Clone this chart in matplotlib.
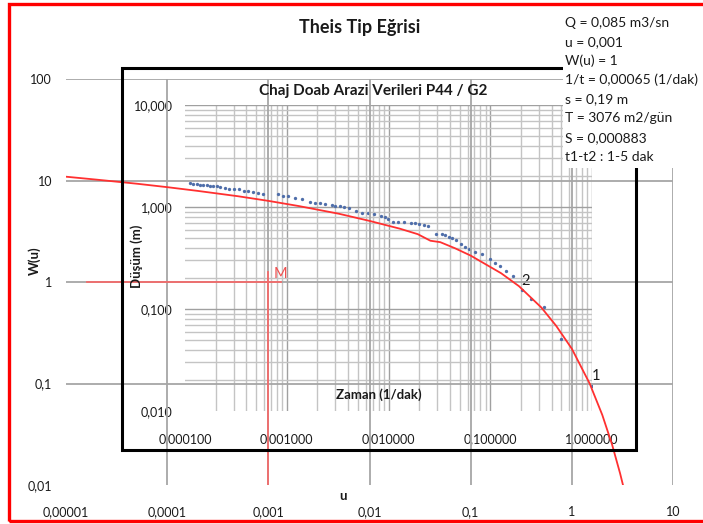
import numpy as np
import matplotlib
matplotlib.use('Agg')
import matplotlib.pyplot as plt
from matplotlib.patches import Rectangle
from matplotlib.ticker import LogLocator, FuncFormatter, NullFormatter

plt.rcParams['font.family'] = ['Lato', 'DejaVu Sans']

# Theis type curve W(u)
u_vals = [1e-5, 2e-5, 5e-5, 1e-4, 2e-4, 5e-4, 1e-3, 2e-3, 5e-3, 1e-2, 2e-2, 3e-2,
          4e-2, 5e-2, 7e-2, 0.1, 0.2, 0.3, 0.5, 0.7, 1.0, 1.5, 2.0, 2.5, 3.0, 3.5]
W_vals = [10.9, 10.2, 9.3, 8.6, 7.9, 7.0, 6.3, 5.6, 4.7, 4.0, 3.35, 2.96,
          2.55, 2.47, 2.15, 1.82, 1.22, 0.91, 0.56, 0.37, 0.22, 0.10, 0.049, 0.025, 0.013, 0.007]

# field data, Chaj Doab P44 / G2 : 1/t (1/dak) vs drawdown s (m)
inv_t = [0.000112, 0.000121, 0.00013, 0.00014, 0.000151, 0.000163, 0.000176, 0.00019,
         0.000205, 0.000221, 0.000247, 0.000273, 0.000303, 0.00034, 0.000383, 0.000419,
         0.000469, 0.000525, 0.000589, 0.000826, 0.000925, 0.00102, 0.00121, 0.0014,
         0.00169, 0.0019, 0.00212, 0.00238, 0.0028, 0.00298, 0.00334, 0.00368, 0.00412,
         0.0048, 0.00546, 0.00625, 0.0072, 0.00844, 0.00924, 0.00995, 0.01114, 0.01248,
         0.01429, 0.0166, 0.0182, 0.01995, 0.0223, 0.0247, 0.0291, 0.0333, 0.0359, 0.0393,
         0.0418, 0.046, 0.0513, 0.0564, 0.0623, 0.0708, 0.0836, 0.0995, 0.1114, 0.1247,
         0.144, 0.168, 0.204, 0.251, 0.34, 0.495, 1.0]
s_vals = [1.71, 1.68, 1.67, 1.65, 1.64, 1.63, 1.62, 1.62,
          1.61, 1.58, 1.52, 1.50, 1.50, 1.49, 1.43, 1.43,
          1.39, 1.38, 1.33, 1.34, 1.29, 1.28, 1.22, 1.19,
          1.13, 1.10, 1.09, 1.06, 1.04, 1.03, 1.02, 1.01, 0.971,
          0.914, 0.867, 0.867, 0.848, 0.816, 0.803, 0.768, 0.718, 0.718,
          0.718, 0.697, 0.692, 0.681, 0.659, 0.647, 0.544, 0.540, 0.531, 0.512,
          0.493, 0.475, 0.431, 0.408, 0.390, 0.365, 0.344, 0.307, 0.281, 0.266,
          0.236, 0.211, 0.155, 0.125, 0.104, 0.0508, 0.0174]

# match point
match_u = 0.001
match_W = 1
match_u_start = 1.6e-5
match_u_end = 1.33e-3
match_W_top = 1.26

info_lines = ['Q = 0,085 m3/sn', 'u = 0,001', 'W(u) = 1', '1/t = 0,00065 (1/dak)',
              's = 0,19 m', 'T = 3076 m2/gün', 'S = 0,000883', 't1-t2 : 1-5 dak']

W, H = 703, 524
txt_col = '#1a1a1a'


def fx(px):
    return px / W


def fy(py):
    return 1 - py / H


def comma_fmt(v, pos):
    s = f'{v:.10f}'.rstrip('0').rstrip('.')
    return s.replace('.', ',')


fig = plt.figure(figsize=(7.03, 5.24), dpi=100)

# inner chart (field data)
ax_in = fig.add_axes([fx(185), fy(411), fx(592) - fx(185), fy(105) - fy(411)], zorder=1)
ax_in.patch.set_visible(False)
ax_in.set_xscale('log')
ax_in.set_yscale('log')
ax_in.set_xlim(1e-4, 1)
ax_in.set_ylim(0.01, 10)
ax_in.plot(inv_t, s_vals, 'o', ms=2.4, color='#4F6EAA', mec='none')
ax_in.xaxis.set_major_locator(LogLocator(base=10))
ax_in.yaxis.set_major_locator(LogLocator(base=10))
ax_in.xaxis.set_minor_locator(LogLocator(base=10, subs=np.arange(2, 10), numticks=20))
ax_in.yaxis.set_minor_locator(LogLocator(base=10, subs=np.arange(2, 10), numticks=20))
ax_in.xaxis.set_minor_formatter(NullFormatter())
ax_in.yaxis.set_minor_formatter(NullFormatter())
ax_in.xaxis.set_major_formatter(FuncFormatter(lambda v, p: f'{v:.6f}'.replace('.', ',')))
ax_in.yaxis.set_major_formatter(FuncFormatter(lambda v, p: f'{v:.3f}'.replace('.', ',')))
ax_in.grid(True, which='major', color='#A0A0A0', lw=1.0)
ax_in.grid(True, which='minor', color='#C4C4C4', lw=1.0)
ax_in.tick_params(which='both', length=0, labelsize=9, labelcolor=txt_col)
ax_in.tick_params(axis='x', pad=16)
ax_in.tick_params(axis='y', pad=9)
for sp in ax_in.spines.values():
    sp.set_visible(False)
ax_in.annotate('2', (inv_t[64], s_vals[64]), xytext=(0, 3), textcoords='offset points',
               ha='left', va='baseline', fontsize=10.5, color=txt_col)
ax_in.annotate('1', (inv_t[68], s_vals[68]), xytext=(0, 5), textcoords='offset points',
               ha='left', va='baseline', fontsize=10.5, color=txt_col)

# outer chart (Theis type curve)
ax_out = fig.add_axes([fx(66), fy(485), fx(673) - fx(66), fy(79) - fy(485)], zorder=2)
ax_out.patch.set_visible(False)
ax_out.set_xscale('log')
ax_out.set_yscale('log')
ax_out.set_xlim(1e-5, 10)
ax_out.set_ylim(0.01, 100)
ax_out.plot(u_vals, W_vals, color='#FF3030', lw=1.3)
ax_out.plot([match_u_start, match_u_end], [match_W, match_W], color='#F26B6B', lw=1.3)
ax_out.plot([match_u, match_u], [0.01, match_W_top], color='#F26B6B', lw=1.3)
ax_out.annotate('M', (match_u, match_W), xytext=(3.5, 3), textcoords='offset points',
                ha='left', va='baseline', fontsize=10.5, color='#F05050')
ax_out.xaxis.set_major_locator(LogLocator(base=10))
ax_out.yaxis.set_major_locator(LogLocator(base=10))
ax_out.xaxis.set_minor_locator(plt.NullLocator())
ax_out.yaxis.set_minor_locator(plt.NullLocator())
ax_out.xaxis.set_major_formatter(FuncFormatter(comma_fmt))
ax_out.yaxis.set_major_formatter(FuncFormatter(comma_fmt))
ax_out.grid(True, which='major', color='#A6A6A6', lw=1.3)
ax_out.tick_params(length=0, labelsize=9, labelcolor=txt_col)
ax_out.tick_params(axis='x', pad=15)
ax_out.tick_params(axis='y', pad=10)
for sp in ax_out.spines.values():
    sp.set_visible(False)

# frames
fig.add_artist(Rectangle((fx(122), fy(450)), fx(636) - fx(122), fy(68) - fy(450),
                         transform=fig.transFigure, fill=False, ec='black', lw=2.2, zorder=3))
fig.add_artist(Rectangle((fx(9), fy(521)), 1.0, fy(4) - fy(521),
                         transform=fig.transFigure, fill=False, ec='#FF0000', lw=2.4, zorder=3))
# white text box holding the results (covers the grid behind it)
fig.add_artist(Rectangle((fx(563), fy(168)), fx(701) - fx(563), fy(8) - fy(168),
                         transform=fig.transFigure, fc='white', ec='none', zorder=4))

# texts
fig.text(fx(360), fy(28), 'Theis Tip Eğrisi', ha='center', va='center',
         fontsize=13, fontweight='bold', color=txt_col)
fig.text(fx(373), fy(91), 'Chaj Doab Arazi Verileri P44 / G2', ha='center', va='center',
         fontsize=11, fontweight='bold', color=txt_col)
fig.text(fx(379), fy(395), 'Zaman (1/dak)', ha='center', va='center',
         fontsize=9.5, fontweight='bold', color=txt_col)
fig.text(fx(137), fy(256), 'Düşüm (m)', ha='center', va='center', rotation=90,
         fontsize=9.5, fontweight='bold', color=txt_col)
fig.text(fx(35), fy(261), 'W(u)', ha='center', va='center', rotation=90,
         fontsize=9.5, fontweight='bold', color=txt_col)
fig.text(fx(343), fy(496), 'u', ha='center', va='center',
         fontsize=9.5, fontweight='bold', color=txt_col)
for i, line in enumerate(info_lines):
    fig.text(fx(565), fy(22.5 + 19.2 * i), line, ha='left', va='center',
             fontsize=10, color=txt_col, zorder=5)

# hide the gridlines on the lower / left axis edge (as in the original)
# and any tick outside the axis range
fig.canvas.draw()
for ax in (ax_in, ax_out):
    for axis, lims in ((ax.xaxis, ax.get_xlim()), (ax.yaxis, ax.get_ylim())):
        lo, hi = lims
        for t in axis.get_major_ticks():
            loc = t.get_loc()
            if loc is None:
                continue
            if np.isclose(loc, lo):
                t.gridline.set_visible(False)
            if loc < lo * 0.99 or loc > hi * 1.01:
                t.set_visible(False)
                t.label1.set_visible(False)
                t.gridline.set_visible(False)

fig.savefig('out.png', dpi=100)
